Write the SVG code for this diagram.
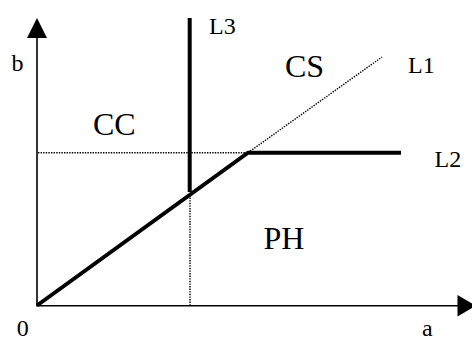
<svg xmlns="http://www.w3.org/2000/svg" width="472" height="341" viewBox="0 0 472 341">
<style>
.axis{stroke:#000;stroke-width:1.6;fill:none}
.thick{stroke:#000;stroke-width:4;fill:none}
.dot{stroke:#000;stroke-width:1.4;fill:none;stroke-dasharray:1.4 1.2}
.lbl{font-family:"Liberation Serif","Times New Roman",serif;font-size:24px;fill:#000}
.big{font-family:"Liberation Serif","Times New Roman",serif;font-size:32px;fill:#000}
</style>
<rect width="472" height="341" fill="#fff"/>
<g id="connectors">
<line class="axis" x1="37" y1="306" x2="37" y2="36"/>
<polygon points="37,18 27,38 47,38" fill="#000"/>
<line class="axis" x1="36.2" y1="305.7" x2="459" y2="305.7"/>
<polygon points="476,305.7 457.5,295 457.5,316.5" fill="#000"/>
<line class="dot" x1="38" y1="152.7" x2="248" y2="152.7"/>
<line class="dot" x1="190" y1="195" x2="190" y2="305"/>
<line class="dot" x1="248" y1="152.7" x2="382" y2="57"/>
<polyline class="thick" points="37,305.5 248,152.7 401,152.7"/>
<line class="thick" x1="189.7" y1="18" x2="189.7" y2="192"/>
</g>
<g id="labels">
<text class="lbl" x="16.7" y="335.5">0</text>
<text class="lbl" x="422" y="335.5">a</text>
<text class="lbl" x="11.5" y="71">b</text>
<text class="lbl" x="209" y="33.5">L3</text>
<text class="lbl" x="408" y="72.5">L1</text>
<text class="lbl" x="434.5" y="166.5">L2</text>
<text class="big" x="93" y="135">CC</text>
<text class="big" x="285" y="76.5">CS</text>
<text class="big" x="263.5" y="249">PH</text>
</g>
</svg>
